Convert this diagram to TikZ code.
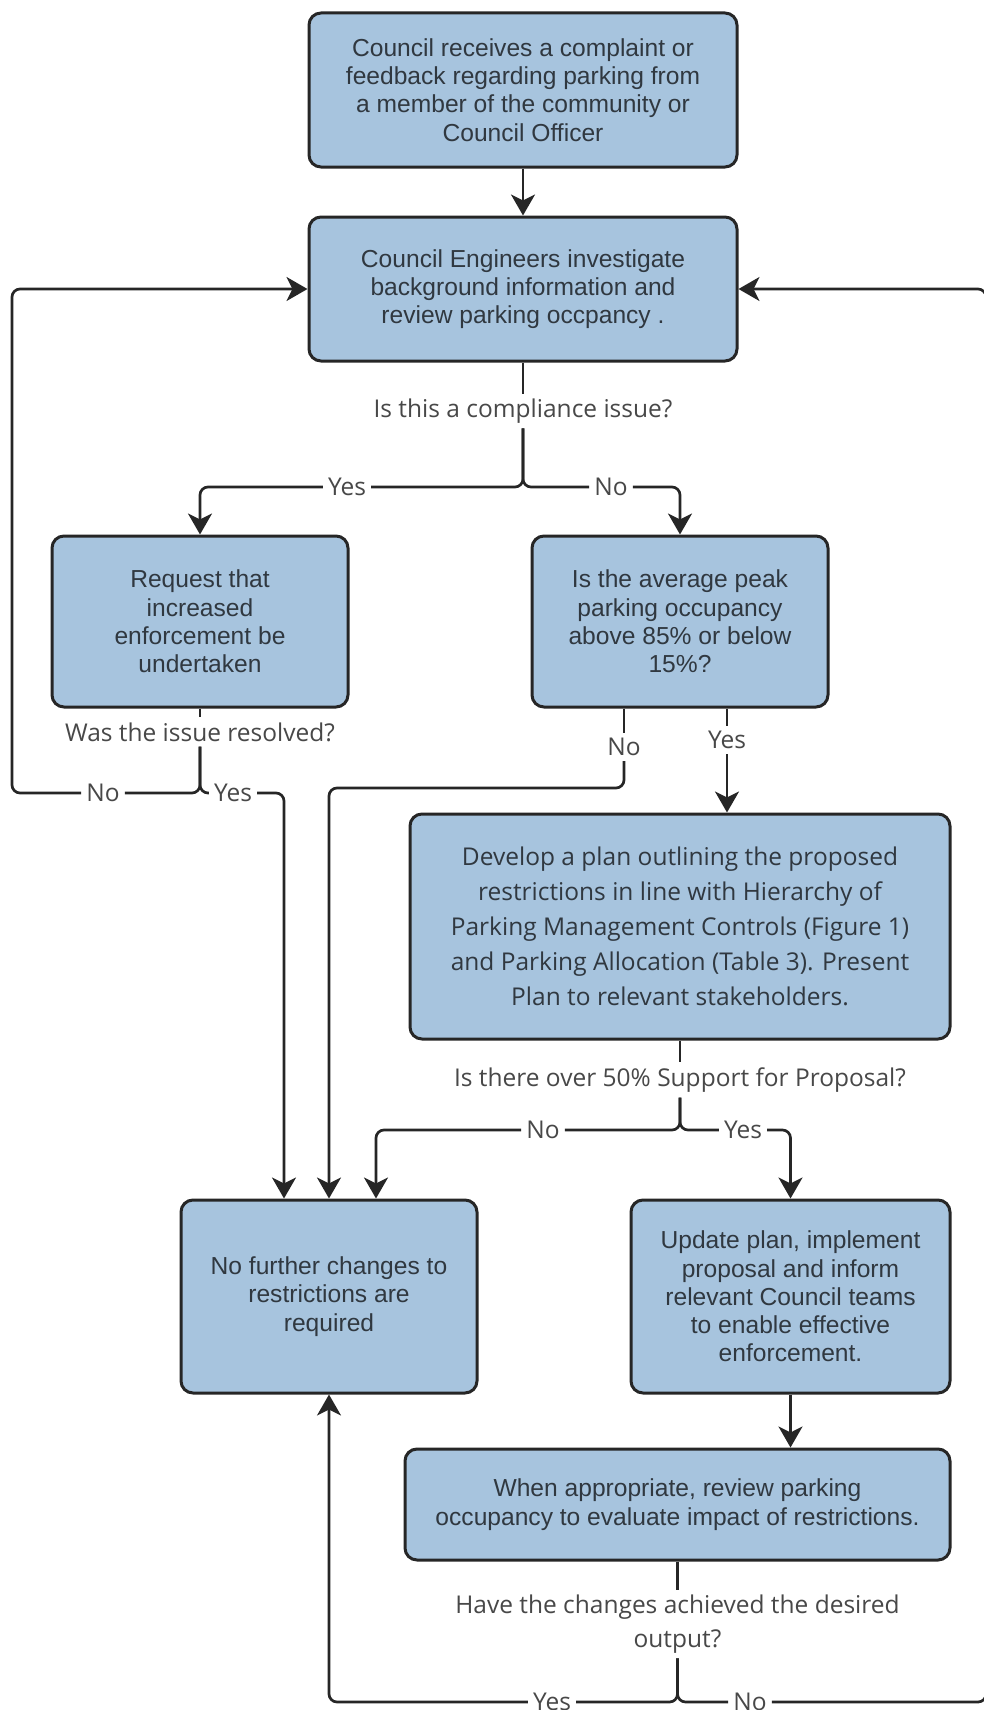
\documentclass[tikz,border=0pt]{standalone}
\usepackage{fontspec}
\setmainfont{Liberation Sans}
\newfontfamily\opensans{Open Sans}
\usetikzlibrary{positioning,arrows.meta}
\definecolor{boxblue}{RGB}{167,196,222}
\definecolor{edgegray}{RGB}{38,38,38}
\definecolor{textgray}{RGB}{48,56,64}
\definecolor{labelgray}{RGB}{72,72,72}
\tikzset{box/.style = {rectangle, rounded corners=12pt, draw=edgegray, line width=3pt, fill=boxblue, text=textgray, align=center, inner sep=0pt, font=\fontsize{24.6}{28.3}\selectfont}}
\tikzset{answer/.style = {fill=white, text=labelgray, inner sep=5pt, align=center, font=\opensans\fontsize{24.5}{34}\selectfont}}
\tikzset{wire/.style = {draw=edgegray, line width=2.7pt, rounded corners=8pt}}
\tikzset{flow/.style = {wire, -{Stealth[length=21pt,width=24pt,inset=6pt]}}}

\begin{document}
\begin{tikzpicture}[x=1pt,y=-1pt]
        \useasboundingbox (0,0) rectangle (984,1710);

        \node [box, minimum width=428pt, minimum height=154pt] (b1) at (523,90) {Council receives a complaint or\\feedback regarding parking from\\a member of the community or\\Council Officer};
        \node [box, minimum width=428pt, minimum height=144pt] (b2) at (523,289) {Council Engineers investigate\\background information and\\review parking occpancy .};
        \node [box, minimum width=296pt, minimum height=171pt] (b3) at (200,621.5) {Request that\\increased\\enforcement be\\undertaken};
        \node [box, minimum width=296pt, minimum height=171pt] (b4) at (680,621.5) {Is the average peak\\parking occupancy\\above 85\% or below\\15\%?};
        \node [box, minimum width=540pt, minimum height=225pt, font=\opensans\fontsize{24.5}{35}\selectfont] (b5) at (680,926.5) {Develop a plan outlining the proposed\\restrictions in line with Hierarchy of\\Parking Management Controls (Figure 1)\\and Parking Allocation (Table 3). Present\\Plan to relevant stakeholders.};
        \node [box, minimum width=296pt, minimum height=193pt] (b6) at (329,1296.5) {No further changes to\\restrictions are\\required};
        \node [box, minimum width=319pt, minimum height=193pt] (b7) at (790.5,1296.5) {Update plan, implement\\proposal and inform\\relevant Council teams\\to enable effective\\enforcement.};
        \node [box, minimum width=545pt, minimum height=111pt] (b8) at (677.5,1504.5) {When appropriate, review parking\\occupancy to evaluate impact of restrictions.};

        \node [answer] (q1) at (523,411) {Is this a compliance issue?};
        \node [answer] (yes1) at (347,487) {Yes};
        \node [answer] (no1) at (611,487) {No};
        \node [answer] (q2) at (200,732) {Was the issue resolved?};
        \node [answer] (no3) at (103,793) {No};
        \node [answer] (yes3) at (233,793) {Yes};
        \node [answer] (no2) at (624,747) {No};
        \node [answer] (yes2) at (727,740) {Yes};
        \node [answer] (q3) at (680,1080) {Is there over 50\% Support for Proposal?};
        \node [answer] (no4) at (543,1130) {No};
        \node [answer] (yes4) at (743,1130) {Yes};
        \node [answer] (q4) at (677.5,1624) {Have the changes achieved the desired\\output?};
        \node [answer] (yes5) at (552,1702) {Yes};
        \node [answer] (no5) at (750,1702) {No};

        \coordinate (lft) at (12,289);
        \coordinate (rgt) at (986,289);
        \coordinate (k1) at (624,788);

        \draw [flow] (b1) -- (b2);
        \draw [wire] (b2) -- (q1);
        \draw [flow] (q1) |- (yes1) -| (b3);
        \draw [flow] (q1) |- (no1) -| (b4);

        \draw [wire] (b3) -- (q2);
        \draw [flow] (q2) |- (no3) -| (lft) -- (b2);
        \draw [flow] (q2) |- (yes3) -| ([xshift=-45pt]b6.north);

        \draw [wire] ([xshift=-56pt]b4.south) -- (no2);
        \draw [flow] (no2) -- (k1) -| (b6);
        \draw [wire] ([xshift=47pt]b4.south) -- (yes2);
        \draw [flow] (yes2) -- (yes2 |- b5.north);

        \draw [wire] (b5) -- (q3);
        \draw [flow] (q3) |- (no4) -| ([xshift=47pt]b6.north);
        \draw [flow] (q3) |- (yes4) -| (b7);
        \draw [flow] (b7) -- (b7 |- b8.north);

        \draw [wire] (b8) -- (q4);
        \draw [flow] (q4) |- (yes5) -| (b6);
        \draw [flow] (q4) |- (no5) -| (rgt) -- (b2);
    \end{tikzpicture}
\end{document}
